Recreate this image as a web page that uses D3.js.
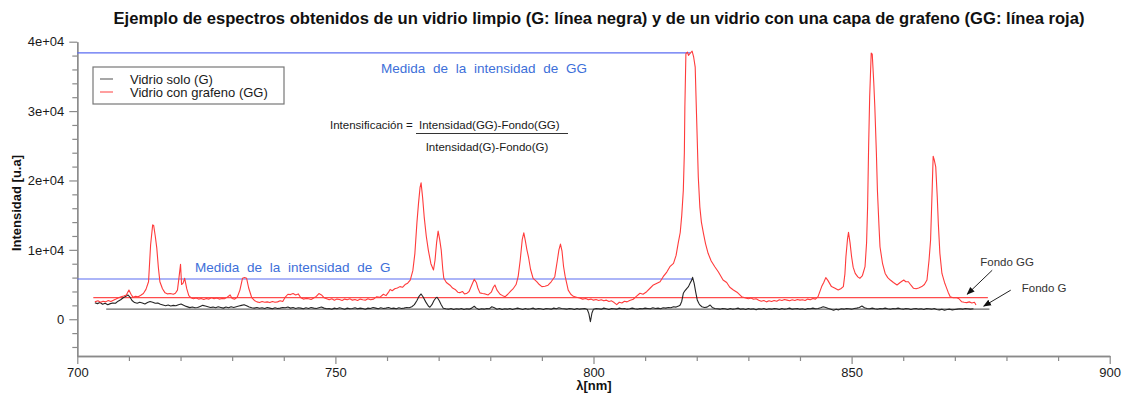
<!DOCTYPE html>
<html>
<head>
<meta charset="utf-8">
<script src="https://cdn.jsdelivr.net/npm/d3@7"></script>
<style>
  html, body { margin: 0; padding: 0; background: #fff; }
  svg { display: block; font-family: "Liberation Sans", Arial, Helvetica, sans-serif; }
</style>
</head>
<body>
<svg id="chart" width="1124" height="398"></svg>
<script>
// ---------------- data ----------------
const titleText = "Ejemplo de espectros obtenidos de un vidrio limpio (G: línea negra) y de un vidrio con una capa de grafeno (GG: línea roja)";
const xTicks = [700, 750, 800, 850, 900];
const yTicks = [0, 10000, 20000, 30000, 40000];
const xDomain = [700, 900];
const yDomain = [-5300, 40000];
const legendLabels = ["Vidrio solo (G)", "Vidrio con grafeno (GG)"];

// reference levels
const fondoGG = 3100, fondoG = 1450;
const intensidadGG = 38400, intensidadG = 5800;
const fondoGGRange = [703.1, 876.4];
const fondoGRange = [705.6, 876.7];
const intensidadGGEnd = 818.8, intensidadGEnd = 819.2;

// spectrum with graphene (GG, red): [wavelength nm, intensity]
const spectrumGG = [
[703.4,2500],[704.0,2650],[704.5,2450],[705.0,2600],[705.5,2500],[706.0,2700],[706.5,2550],[707.0,2750],[707.5,2900],[708.0,3100],
[708.5,3250],[709.0,3350],[709.5,3500],[710.0,4200],[710.4,3600],[710.8,3150],[711.3,3300],[711.8,3250],[712.3,3450],[712.8,3700],
[713.3,4300],[713.8,5400],[714.2,10700],[714.6,13600],[714.8,13500],[715.1,12000],[715.4,10250],[715.7,7500],[716.0,5400],[716.5,4400],
[717.0,3800],[717.5,3650],[718.0,3700],[718.6,3600],[719.0,3750],[719.4,4200],[719.7,6000],[720.0,7900],[720.2,5000],[720.5,5200],
[720.8,5900],[721.2,4400],[721.6,3400],[722.0,3100],[722.5,2950],[723.0,3050],[723.5,2900],[724.0,3000],[724.5,2850],[725.0,3000],
[725.5,2900],[726.0,3100],[726.5,2950],[727.0,3050],[727.5,2900],[728.0,3000],[728.5,2950],[729.0,3150],[729.6,3500],[730.0,3000],
[730.5,2900],[731.0,3200],[731.5,4200],[732.0,5900],[732.4,6000],[732.8,5900],[733.2,4500],[733.8,3100],[734.3,2700],[734.8,2500],
[735.3,2400],[735.8,2550],[736.3,2450],[736.8,2500],[737.3,2400],[737.8,2550],[738.3,2450],[738.8,2500],[739.3,2650],[739.8,2550],
[740.3,3200],[740.8,3600],[741.3,3550],[741.8,3700],[742.3,3500],[742.8,3650],[743.3,3100],[743.8,2900],[744.3,3000],[744.8,2950],
[745.3,2850],[745.8,3050],[746.3,3300],[746.8,3700],[747.3,3500],[747.8,3100],[748.3,2950],[748.8,2800],[749.3,2950],[749.8,2750],
[750.3,2900],[750.8,2850],[751.3,2700],[751.8,2900],[752.3,2800],[752.8,2950],[753.3,2750],[753.8,2850],[754.3,2700],[754.8,2900],
[755.3,2800],[755.8,2750],[756.3,2950],[756.8,2800],[757.4,2900],[758.0,3250],[758.6,3150],[759.3,3600],[759.8,3400],[760.3,3900],
[760.6,4300],[761.0,4100],[761.5,4400],[762.0,4500],[762.5,4700],[763.0,4600],[763.5,5000],[764.0,5200],[764.5,5650],[765.0,7000],
[765.4,9500],[765.8,14000],[766.1,16700],[766.4,19000],[766.6,19650],[766.9,17500],[767.2,14760],[767.6,12000],[768.0,9970],[768.5,8000],
[769.0,7100],[769.3,8500],[769.6,11000],[769.9,12700],[770.2,11500],[770.5,9970],[770.8,7200],[771.0,5900],[771.5,5300],[772.2,4900],
[772.7,4500],[773.2,4300],[773.7,3900],[774.1,3830],[774.6,4000],[775.0,3650],[775.4,3700],[775.9,4000],[776.4,4900],[776.9,5750],
[777.3,5300],[777.6,4500],[778.0,3800],[778.5,3700],[779.0,3650],[779.6,3500],[780.2,3900],[780.6,4600],[780.9,4930],[781.3,4200],
[781.9,3600],[782.4,3400],[782.9,3250],[783.4,3600],[784.0,4100],[784.5,4460],[785.0,5000],[785.4,6130],[785.8,8500],[786.2,11500],
[786.5,12460],[786.8,11300],[787.1,10000],[787.4,9000],[787.8,7200],[788.3,5900],[789.0,5420],[789.5,5000],[790.0,4700],[790.6,4750],
[791.2,4900],[791.8,5400],[792.5,6130],[793.0,8500],[793.3,10000],[793.6,10830],[793.9,9800],[794.2,7600],[794.5,6200],[794.8,5200],
[795.1,4200],[795.6,3600],[796.1,3300],[796.7,3170],[797.3,3050],[797.9,2900],[798.5,3000],[799.0,2800],[799.5,2900],[800.0,2750],
[800.5,2850],[801.0,2700],[801.5,2800],[802.0,2650],[802.5,2750],[803.0,2550],[803.5,2650],[804.0,2400],[804.5,2100],[805.0,2450],
[805.5,2350],[806.0,2600],[806.5,2500],[807.0,2700],[807.7,2880],[808.3,3300],[809.0,3740],[809.6,3600],[810.3,3970],[811.0,4500],
[811.6,4940],[812.3,5200],[812.9,5410],[813.5,6130],[814.2,6800],[814.8,7570],[815.5,8060],[816.0,9200],[816.4,10930],[816.8,12500],
[817.1,15000],[817.4,18600],[817.6,24000],[817.7,30600],[817.9,38270],[818.2,38500],[818.4,38030],[818.7,38300],[819.1,38650],[819.4,37800],
[819.7,36340],[819.9,31000],[820.1,25800],[820.3,20500],[820.6,16200],[820.9,14000],[821.3,12370],[821.7,10900],[822.2,9500],[822.8,8400],
[823.5,7570],[824.2,6800],[825.1,5650],[825.8,5300],[826.4,4600],[827.1,4220],[827.8,3900],[828.7,3250],[829.3,3100],[830.0,2950],
[830.5,3050],[831.0,2880],[831.5,2950],[832.0,2750],[832.5,2600],[833.0,2700],[833.5,2500],[834.0,2650],[834.5,2550],[835.0,2700],
[835.5,2600],[836.0,2800],[836.5,2700],[837.0,2850],[837.5,2750],[838.0,2650],[838.5,2800],[839.0,2700],[839.5,2850],[840.0,2750],
[840.5,2800],[841.0,2700],[841.5,2900],[842.0,2800],[842.5,3000],[843.0,2900],[843.5,3250],[844.2,4700],[844.6,5300],[845.0,6000],
[845.4,5600],[846.1,4700],[846.7,4500],[847.4,4220],[847.9,4400],[848.4,4700],[848.7,6500],[848.9,9000],[849.2,11500],[849.4,12520],
[849.7,11000],[850.0,9000],[850.3,7500],[850.7,6600],[851.2,6100],[851.6,5900],[852.1,6300],[852.6,7570],[852.9,11000],[853.1,16200],
[853.3,25000],[853.5,32000],[853.8,38360],[854.0,38200],[854.3,34000],[854.5,30600],[854.8,24000],[855.0,18600],[855.3,13500],[855.5,10450],
[856.0,8000],[856.5,6600],[857.0,6000],[857.5,5650],[858.1,5300],[858.8,4940],[859.4,5300],[860.1,5650],[860.5,5400],[861.0,5400],
[861.5,4900],[862.0,4460],[862.5,4400],[863.0,4500],[863.6,4700],[864.1,5000],[864.6,5650],[865.0,8500],[865.3,11410],[865.6,18500],
[865.8,23500],[866.0,23000],[866.3,21960],[866.6,17500],[866.8,13800],[867.1,9500],[867.5,6600],[868.0,5300],[868.3,4700],[868.7,3900],
[869.1,3250],[869.7,3100],[870.4,3100],[870.8,2950],[871.3,2530],[871.8,2450],[872.3,2390],[872.8,2500],[873.3,2350],[873.8,2450],
[874.1,2060]
];

// spectrum of clean glass (G, black): [wavelength nm, intensity]
const spectrumG = [
[703.4,2390],[703.9,2250],[704.4,2400],[704.9,2150],[705.4,2300],[705.9,2100],[706.4,2250],[706.9,2350],[707.4,2300],[707.9,2600],
[708.4,2800],[708.9,3100],[709.4,3300],[709.8,3500],[710.2,3200],[710.6,2700],[711.1,2400],[711.6,2300],[712.1,2450],[712.6,2350],
[713.1,2200],[713.6,2400],[714.1,2550],[714.6,2450],[715.1,2300],[715.6,2350],[716.1,2150],[716.6,2050],[717.1,1950],[717.6,2050],
[718.1,1900],[718.6,2000],[719.1,1950],[719.6,2100],[720.1,2200],[720.6,2000],[721.1,1850],[721.8,1670],[722.3,1750],[722.8,1650],
[723.3,1700],[723.8,1850],[724.3,2000],[724.8,1900],[725.3,1800],[725.8,1700],[726.3,1750],[726.8,1650],[727.3,1800],[727.8,1700],
[728.3,1600],[728.8,1750],[729.3,1650],[729.8,1800],[730.3,1700],[730.8,1800],[731.3,1900],[731.8,2000],[732.3,2100],[732.8,1950],
[733.3,1750],[733.8,1650],[734.3,1600],[734.8,1700],[735.3,1580],[735.8,1650],[736.3,1550],[736.8,1700],[737.3,1600],[737.8,1500],
[738.3,1650],[738.8,1550],[739.3,1600],[739.8,1700],[740.3,1650],[740.8,1750],[741.3,1600],[741.8,1700],[742.3,1550],[742.8,1650],
[743.3,1600],[743.8,1500],[744.3,1650],[744.8,1550],[745.3,1700],[745.8,1600],[746.3,1550],[746.8,1650],[747.3,1750],[747.8,1600],
[748.3,1500],[748.8,1550],[749.3,1450],[749.8,1600],[750.3,1500],[750.8,1650],[751.3,1550],[751.8,1450],[752.3,1600],[752.8,1500],
[753.3,1550],[753.8,1650],[754.3,1500],[754.8,1600],[755.3,1550],[755.8,1450],[756.3,1600],[756.8,1550],[757.3,1700],[757.8,1600],
[758.3,1500],[758.8,1650],[759.3,1550],[759.8,1600],[760.3,1700],[760.8,1550],[761.3,1600],[761.8,1500],[762.3,1650],[762.8,1550],
[763.3,1600],[763.8,1700],[764.3,1650],[764.8,1800],[765.3,2100],[765.8,2700],[766.2,3300],[766.6,3640],[767.0,3200],[767.5,2500],
[768.0,1900],[768.3,1730],[768.7,2100],[769.1,2700],[769.5,3100],[769.7,3170],[770.1,2700],[770.5,2100],[770.9,1580],[771.4,1500],
[771.9,1450],[772.4,1550],[772.9,1400],[773.4,1500],[773.9,1450],[774.4,1550],[774.9,1400],[775.4,1500],[775.9,1450],[776.4,1600],
[776.9,1870],[777.3,1600],[777.8,1400],[778.3,1500],[778.8,1450],[779.3,1550],[779.8,1500],[780.3,1800],[780.8,1650],[781.3,1450],
[781.8,1550],[782.3,1400],[782.8,1500],[783.3,1450],[783.8,1550],[784.3,1400],[784.8,1500],[785.3,1600],[785.8,1500],[786.3,1400],
[786.8,1550],[787.3,1450],[787.8,1500],[788.3,1600],[788.8,1450],[789.3,1550],[789.8,1500],[790.3,1400],[790.8,1550],[791.3,1500],
[791.8,1450],[792.3,1600],[792.8,1500],[793.3,1650],[793.8,1550],[794.3,1500],[794.8,1450],[795.3,1550],[795.8,1500],[796.3,1400],
[796.8,1550],[797.3,1450],[797.8,1500],[798.3,1550],[798.8,1400],[799.1,800],[799.4,-340],[799.7,900],[800.0,1450],[800.5,1550],
[801.0,1500],[801.5,1450],[802.0,1600],[802.5,1500],[803.0,1400],[803.5,1550],[804.0,1500],[804.5,1450],[805.0,1600],[805.5,1500],
[806.0,1550],[806.5,1450],[807.0,1500],[807.5,1600],[808.0,1500],[808.5,1450],[809.0,1550],[809.5,1500],[810.0,1600],[810.5,1550],
[811.0,1500],[811.5,1650],[812.0,1550],[812.5,1600],[813.0,1500],[813.5,1650],[814.0,1600],[814.5,1700],[815.0,1650],[815.5,1800],
[816.0,1750],[816.5,1900],[816.8,2060],[817.1,2600],[817.4,3740],[817.7,4100],[818.1,4460],[818.4,4700],[818.7,5180],[819.0,5600],
[819.2,6040],[819.5,5180],[819.8,3900],[820.1,2780],[820.4,2300],[820.6,2060],[821.0,1800],[821.5,1700],[822.0,1750],[822.6,2050],
[823.0,1700],[823.5,1550],[824.0,1500],[824.5,1450],[825.0,1550],[825.5,1500],[826.0,1400],[826.5,1550],[827.0,1450],[827.5,1500],
[828.0,1600],[828.5,1450],[829.0,1500],[829.5,1400],[830.0,1550],[830.5,1450],[831.0,1500],[831.5,1350],[832.0,1500],[832.5,1450],
[833.0,1550],[833.5,1400],[834.0,1500],[834.5,1450],[835.0,1550],[835.5,1500],[836.0,1400],[836.5,1550],[837.0,1450],[837.5,1500],
[838.0,1600],[838.5,1450],[839.0,1500],[839.5,1550],[840.0,1450],[840.5,1500],[841.0,1400],[841.5,1550],[842.0,1500],[842.5,1600],
[843.0,1500],[843.5,1550],[844.0,1650],[844.5,1800],[845.0,1700],[845.5,1550],[846.0,1450],[846.5,1300],[847.0,1450],[847.5,1350],
[848.0,1500],[848.5,1450],[849.0,1550],[849.5,1500],[850.0,1450],[850.5,1550],[851.0,1600],[851.5,1700],[852.0,1900],[852.5,1650],
[853.0,1550],[853.5,1500],[854.0,1600],[854.5,1500],[855.0,1450],[855.5,1550],[856.0,1500],[856.5,1600],[857.0,1500],[857.5,1450],
[858.0,1550],[858.5,1500],[859.0,1600],[859.5,1500],[860.0,1450],[860.5,1550],[861.0,1500],[861.5,1400],[862.0,1500],[862.5,1550],
[863.0,1450],[863.5,1500],[864.0,1400],[864.5,1550],[865.0,1500],[865.5,1450],[866.0,1550],[866.5,1400],[867.0,1350],[867.5,1450],
[868.0,1300],[868.5,1400],[869.0,1450],[869.5,1350],[870.0,1400],[870.5,1450],[871.0,1500],[871.5,1450],[872.0,1550],[872.5,1500],
[873.0,1450],[873.6,1500]
];

// ---------------- drawing ----------------
const svg = d3.select("#chart");
const x = d3.scaleLinear().domain(xDomain).range([77.3, 1109.7]);
const y = d3.scaleLinear().domain(yDomain).range([356, 41.7]);

const C = {
  red: "#ff3b3b", black: "#262626", blue: "#5b6cf2", blueText: "#3d6fd9",
  axis: "#8a8a8a", text: "#1a1a1a"
};

// title
svg.append("text").attr("x", 599).attr("y", 23.5).attr("text-anchor", "middle")
  .attr("font-size", 16.6).attr("font-weight", "bold").attr("fill", "#111").text(titleText);

// axes
function sciFmt(d) {
  if (d === 0) return "0";
  const e = Math.floor(Math.log10(Math.abs(d)));
  const m = d / Math.pow(10, e);
  return m + "e+" + String(e).padStart(2, "0");
}
const yMinor = d3.range(-4000, 40001, 2000).filter(v => !yTicks.includes(v));
const xMinor = d3.range(700, 901, 10).filter(v => !xTicks.includes(v));

const gy = svg.append("g").attr("transform", `translate(${x(700)},0)`);
gy.call(d3.axisLeft(y).tickValues(yTicks).tickFormat(sciFmt).tickSize(8).tickSizeOuter(0).tickPadding(5));
const gyMinor = svg.append("g").attr("transform", `translate(${x(700)},0)`);
gyMinor.call(d3.axisLeft(y).tickValues(yMinor).tickFormat("").tickSize(5).tickSizeOuter(0));

const gx = svg.append("g").attr("transform", `translate(0,${y(yDomain[0])})`);
gx.call(d3.axisBottom(x).tickValues(xTicks).tickFormat(d3.format("d")).tickSize(8).tickSizeOuter(0).tickPadding(4));
const gxMinor = svg.append("g").attr("transform", `translate(0,${y(yDomain[0])})`);
gxMinor.call(d3.axisBottom(x).tickValues(xMinor).tickFormat("").tickSize(5).tickSizeOuter(0));

svg.selectAll(".domain").attr("stroke", C.axis).attr("stroke-width", 1.3);
svg.selectAll(".tick line").attr("stroke", C.axis).attr("stroke-width", 1.2);
svg.selectAll(".tick text").attr("font-size", 13).attr("fill", C.text)
  .attr("font-family", "'Liberation Sans', Arial, sans-serif");

// axis titles
svg.append("text").attr("x", 594).attr("y", 390).attr("text-anchor", "middle")
  .attr("font-size", 13).attr("font-weight", "bold").attr("fill", "#111").text("λ[nm]");
svg.append("text").attr("transform", "translate(21,203) rotate(-90)").attr("text-anchor", "middle")
  .attr("font-size", 13).attr("font-weight", "bold").attr("fill", "#111").text("Intensidad [u.a]");

// blue intensity lines
svg.append("line").attr("x1", x(700)).attr("x2", x(intensidadGGEnd))
  .attr("y1", y(intensidadGG)).attr("y2", y(intensidadGG)).attr("stroke", C.blue).attr("stroke-width", 1.2);
svg.append("line").attr("x1", x(700)).attr("x2", x(intensidadGEnd))
  .attr("y1", y(intensidadG)).attr("y2", y(intensidadG)).attr("stroke", C.blue).attr("stroke-width", 1.2);

// fondo lines
svg.append("line").attr("x1", x(fondoGGRange[0])).attr("x2", x(fondoGGRange[1]))
  .attr("y1", y(fondoGG)).attr("y2", y(fondoGG)).attr("stroke", "#ff4d4d").attr("stroke-width", 1.2);
svg.append("line").attr("x1", x(fondoGRange[0])).attr("x2", x(fondoGRange[1]))
  .attr("y1", y(fondoG)).attr("y2", y(fondoG)).attr("stroke", "#6a6a6a").attr("stroke-width", 1.3);

// spectra
const line = d3.line().x(d => x(d[0])).y(d => y(d[1]));
svg.append("path").datum(spectrumG).attr("d", line).attr("fill", "none")
  .attr("stroke", C.black).attr("stroke-width", 1.1).attr("stroke-linejoin", "round");
svg.append("path").datum(spectrumGG).attr("d", line).attr("fill", "none")
  .attr("stroke", C.red).attr("stroke-width", 1.1).attr("stroke-linejoin", "round");

// blue labels
svg.append("text").attr("x", 381).attr("y", 73).attr("font-size", 13.5).attr("word-spacing", 4)
  .attr("fill", C.blueText).text("Medida de la intensidad de GG");
svg.append("text").attr("x", 195).attr("y", 272).attr("font-size", 13.5).attr("word-spacing", 4)
  .attr("fill", C.blueText).text("Medida de la intensidad de G");

// formula
const fg = svg.append("g").attr("font-size", 11.5).attr("fill", C.text);
fg.append("text").attr("x", 330).attr("y", 129).text("Intensificación =");
fg.append("text").attr("x", 419).attr("y", 129).text("Intensidad(GG)-Fondo(GG)");
fg.append("line").attr("x1", 416).attr("x2", 568).attr("y1", 133.5).attr("y2", 133.5)
  .attr("stroke", "#333").attr("stroke-width", 1);
fg.append("text").attr("x", 487).attr("y", 151).attr("text-anchor", "middle").text("Intensidad(G)-Fondo(G)");

// legend
const lg = svg.append("g");
lg.append("rect").attr("x", 93).attr("y", 67).attr("width", 191).attr("height", 37)
  .attr("fill", "#fff").attr("stroke", "#777").attr("stroke-width", 1.2);
[C.black, C.red].forEach((c, i) => {
  const yy = 79 + i * 13;
  lg.append("line").attr("x1", 100).attr("x2", 113).attr("y1", yy).attr("y2", yy)
    .attr("stroke", i === 0 ? "#777" : "#ff6b6b").attr("stroke-width", 1.3);
  lg.append("text").attr("x", 130).attr("y", yy + 4.5).attr("font-size", 13).attr("fill", C.text)
    .text(legendLabels[i]);
});

// annotations with arrows
const defs = svg.append("defs");
defs.append("marker").attr("id", "arr").attr("viewBox", "0 0 10 10").attr("refX", 9).attr("refY", 5)
  .attr("markerWidth", 8).attr("markerHeight", 8).attr("orient", "auto")
  .append("path").attr("d", "M0,1 L10,5 L0,9 Z").attr("fill", "#111");

function annot(label, tipX, tipY, dx, dy, tx, ty) {
  svg.append("line").attr("x1", tipX + dx).attr("y1", tipY + dy).attr("x2", tipX).attr("y2", tipY)
    .attr("stroke", "#222").attr("stroke-width", 1).attr("marker-end", "url(#arr)");
  svg.append("text").attr("x", tipX + tx).attr("y", tipY + ty).attr("font-size", 11.5)
    .attr("fill", "#333").text(label);
}
annot("Fondo GG", x(872.4), y(fondoGG) - 3.5, 25, -24, 13, -28);
annot("Fondo G", x(875.6), y(fondoG) - 3, 27, -16, 38, -14);
</script>
</body>
</html>
